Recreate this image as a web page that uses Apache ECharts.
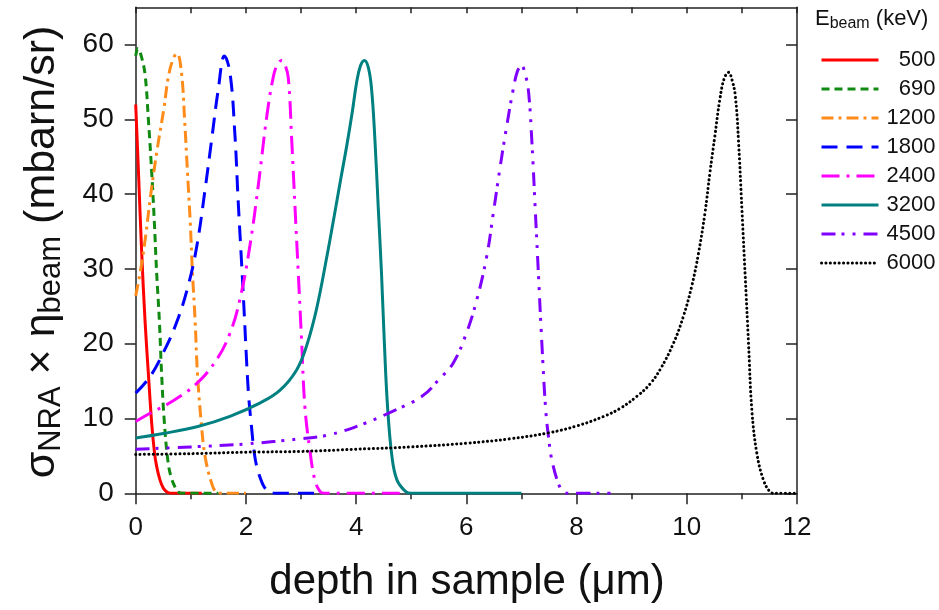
<!DOCTYPE html>
<html><head><meta charset="utf-8">
<script src="https://cdn.jsdelivr.net/npm/echarts@6/dist/echarts.min.js"></script>
<style>html,body{margin:0;padding:0;background:#fff}#c{width:939px;height:610px}</style>
</head><body><div id="c"></div>
<script>
// Beam energies (keV)
const energies = ['500','690','1200','1800','2400','3200','4500','6000'];

// depth (µm) and sigma*eta (mbarn/sr) for each beam energy
const x500 = [0, 0.05, 0.11, 0.17, 0.23, 0.29, 0.34, 0.38, 0.44, 0.5, 0.56, 0.63, 1.2];
const y500 = [52, 43, 32, 23, 16, 9.4, 5.5, 3.6, 1.8, 0.7, 0.2, 0, 0];

const x690 = [0, 0.04, 0.1, 0.17, 0.23, 0.29, 0.34, 0.38, 0.43, 0.47, 0.52, 0.59, 0.65, 0.71, 0.77, 0.85, 1.5];
const y690 = [58.5, 59.5, 58.5, 56, 50, 43, 36, 29.5, 23, 16, 9.5, 4, 2, 0.9, 0.2, 0, 0];

const x1200 = [0, 0.09, 0.18, 0.27, 0.39, 0.51, 0.6, 0.69, 0.75, 0.83, 0.89, 0.94, 0.99, 1.03, 1.08, 1.12, 1.19, 1.26, 1.38, 1.47, 1.55, 2.0];
const y1200 = [26.4, 29.9, 34.4, 39.8, 46, 51.4, 56, 58.3, 58.8, 56.3, 49.6, 42.9, 36.2, 29.5, 22.8, 16.1, 9.4, 4.9, 1.3, 0.1, 0, 0];

const x1800 = [0, 0.26, 0.5, 0.74, 0.95, 1.11, 1.26, 1.38, 1.5, 1.61, 1.71, 1.8, 1.86, 1.92, 1.97, 2.01, 2.05, 2.1, 2.15, 2.2, 2.3, 2.38, 2.46, 3.3];
const y1800 = [13.4, 15.6, 18.8, 22.8, 27.7, 33.1, 40.7, 47.4, 54.1, 58.5, 56.3, 48, 39, 31, 24, 18, 13, 9, 5.5, 3.5, 1.3, 0.4, 0, 0];

const x2400 = [0, 0.26, 0.62, 1.11, 1.47, 1.71, 1.89, 2.07, 2.23, 2.38, 2.5, 2.58, 2.65, 2.71, 2.77, 2.83, 2.89, 2.95, 3.01, 3.07, 3.16, 3.25, 3.34, 3.42, 4.8];
const y2400 = [9.6, 10.7, 12.1, 14.7, 17.9, 21.4, 25.9, 33, 41.5, 50.5, 55.8, 57.5, 57.9, 57.3, 55.5, 47.4, 38.4, 29.5, 20.5, 11.6, 5.8, 1.8, 0.3, 0, 0];

const x3200 = [0, 0.5, 1.11, 1.71, 2.26, 2.62, 2.92, 3.1, 3.28, 3.47, 3.6, 3.72, 3.83, 3.93, 4.01, 4.08, 4.15, 4.22, 4.28, 4.34, 4.4, 4.46, 4.51, 4.57, 4.65, 4.74, 4.89, 5.0, 7.0];
const y3200 = [7.4, 8.0, 8.9, 10.3, 12.1, 13.8, 16.5, 19.7, 24.6, 31.7, 37, 42, 46.5, 51, 55, 57.2, 57.9, 57, 54.1, 47.4, 38.4, 29.5, 20.5, 11.6, 4.9, 1.8, 0.3, 0, 0];

const x4500 = [0, 1, 2, 3, 3.5, 4.1, 4.7, 5.2, 5.5, 5.76, 6.0, 6.19, 6.37, 6.49, 6.61, 6.73, 6.85, 6.93, 7.0, 7.07, 7.13, 7.19, 7.25, 7.31, 7.37, 7.44, 7.5, 7.55, 7.67, 7.76, 7.85, 8.75];
const y4500 = [5.9, 6.2, 6.6, 7.3, 7.8, 9.2, 11.1, 13, 15.2, 17.4, 21.4, 25.9, 31.7, 37.5, 43.5, 49, 54, 56.5, 57.2, 56, 53.6, 46.9, 38, 29, 20.1, 11.2, 7, 4.5, 1.3, 0.2, 0, 0];

const x6000 = [0, 1, 2, 3, 4, 5, 6, 6.8, 7.5, 8, 8.5, 8.8, 9.1, 9.33, 9.52, 9.76, 9.94, 10.09, 10.21, 10.33, 10.42, 10.51, 10.6, 10.68, 10.76, 10.82, 10.88, 10.94, 11.0, 11.06, 11.12, 11.18, 11.27, 11.39, 11.51, 11.6, 12];
const y6000 = [5.2, 5.3, 5.5, 5.6, 5.9, 6.2, 6.7, 7.3, 8.1, 9.0, 10.3, 11.4, 13, 14.6, 16.6, 20.1, 23.7, 27.7, 32, 37.5, 42.9, 47.8, 52.7, 55.5, 56.3, 55.3, 53.2, 46.9, 38, 29, 20.1, 11.2, 5.4, 1.8, 0.2, 0, 0];

// Axis ticks
const xTickStep = 2;
const yTickValues = [0, 10, 20, 30, 40, 50, 60];

const xs = [x500, x690, x1200, x1800, x2400, x3200, x4500, x6000];
const ys = [y500, y690, y1200, y1800, y2400, y3200, y4500, y6000];

const colors = ['#ff0000', '#108a10', '#ff8c1a', '#0000ff', '#ff00ff', '#008080', '#8000ff', '#000000'];
const dashes = ['solid', [8, 5], [12, 5, 3, 5], [16, 9], [18, 7, 3, 7], 'solid', [14, 6, 3, 8, 3, 8], [0.1, 4.3]];
const caps = ['butt', 'butt', 'butt', 'butt', 'butt', 'butt', 'butt', 'round'];

const FONT = '"Liberation Sans", Arial, sans-serif';
const AX = '#222';

const series = energies.map((e, i) => ({
  name: e,
  type: 'line',
  data: xs[i].map((x, j) => [x, ys[i][j]]),
  symbol: 'none',
  showSymbol: false,
  smooth: 0.4,
  clip: true,
  lineStyle: { color: colors[i], width: 3, type: dashes[i], cap: caps[i], join: 'round' },
  itemStyle: { color: colors[i] }
}));

const chart = echarts.init(document.getElementById('c'), null, { renderer: 'canvas' });
chart.setOption({
  animation: false,
  backgroundColor: '#fff',
  grid: { left: 135.7, right: 142, top: 7.3, bottom: 116.7, containLabel: false },
  xAxis: [
    {
      type: 'value', min: 0, max: 12, interval: xTickStep, position: 'bottom',
      axisLine: { show: true, onZero: false, lineStyle: { color: AX, width: 1.5 } },
      axisTick: { show: true, inside: false, length: 11, lineStyle: { color: AX, width: 1.5 } },
      minorTick: { show: true, splitNumber: 2, length: 6, lineStyle: { color: AX, width: 1.5 } },
      axisLabel: { fontSize: 26, color: '#111', margin: 22, fontFamily: FONT },
      splitLine: { show: false }
    },
    {
      type: 'value', min: 0, max: 12, interval: xTickStep, position: 'top',
      axisLine: { show: true, onZero: false, lineStyle: { color: AX, width: 1.5 } },
      axisTick: { show: true, inside: true, length: 6, lineStyle: { color: AX, width: 1.5 } },
      minorTick: { show: true, splitNumber: 2, length: 6, lineStyle: { color: AX, width: 1.5 } },
      axisLabel: { show: false },
      splitLine: { show: false }
    }
  ],
  yAxis: [
    {
      type: 'value', min: 0, max: 65, interval: 10, position: 'left',
      axisLine: { show: true, onZero: false, lineStyle: { color: AX, width: 1.5 } },
      axisTick: { show: true, inside: false, length: 11, customValues: yTickValues, lineStyle: { color: AX, width: 1.5 } },
      axisLabel: { fontSize: 28, color: '#111', margin: 22, fontFamily: FONT, customValues: yTickValues,
        formatter: v => (v > 60 ? '' : String(v)) },
      splitLine: { show: false }
    },
    {
      type: 'value', min: 0, max: 65, interval: 10, position: 'right',
      axisLine: { show: true, onZero: false, lineStyle: { color: AX, width: 1.5 } },
      axisTick: { show: true, inside: true, length: 11, customValues: yTickValues, lineStyle: { color: AX, width: 1.5 } },
      axisLabel: { show: false },
      splitLine: { show: false }
    }
  ],
  legend: {
    orient: 'vertical', left: 815, top: 44,
    itemWidth: 57, itemHeight: 14, itemGap: 7,
    data: energies,
    itemStyle: { color: 'rgba(0,0,0,0)', borderColor: 'rgba(0,0,0,0)', borderWidth: 0, opacity: 0 },
    lineStyle: { width: 3 },
    formatter: n => '{n|' + n + '}',
    textStyle: {
      fontFamily: FONT, fontSize: 22, color: '#111',
      rich: { n: { width: 52, align: 'right', fontSize: 22, lineHeight: 22, fontFamily: FONT, color: '#111' } }
    }
  },
  graphic: [
    {
      type: 'text', left: 815, top: 8,
      style: {
        text: '{m|E}{s|beam}{m| (keV)}',
        rich: {
          m: { fontSize: 22, lineHeight: 24, verticalAlign: 'top', fontFamily: FONT, fill: '#111' },
          s: { fontSize: 16, lineHeight: 16, verticalAlign: 'bottom', fontFamily: FONT, fill: '#111' }
        }
      }
    },
    {
      type: 'text', x: 467, y: 582,
      style: { text: 'depth in sample (\u03bcm)', fontSize: 42, fontFamily: FONT, fill: '#111', align: 'center', verticalAlign: 'middle' }
    },
    {
      type: 'text', x: 44, y: 252, rotation: Math.PI / 2,
      style: {
        text: '{m|\u03c3}{s|NRA}{m| \u00d7 \u03b7}{s|beam}{m| (mbarn/sr)}',
        align: 'center', verticalAlign: 'middle',
        rich: {
          m: { fontSize: 43, lineHeight: 46, verticalAlign: 'top', fontFamily: FONT, fill: '#111' },
          s: { fontSize: 31, lineHeight: 31, verticalAlign: 'bottom', fontFamily: FONT, fill: '#111' }
        }
      }
    }
  ],
  series: series
});
</script>
</body></html>
